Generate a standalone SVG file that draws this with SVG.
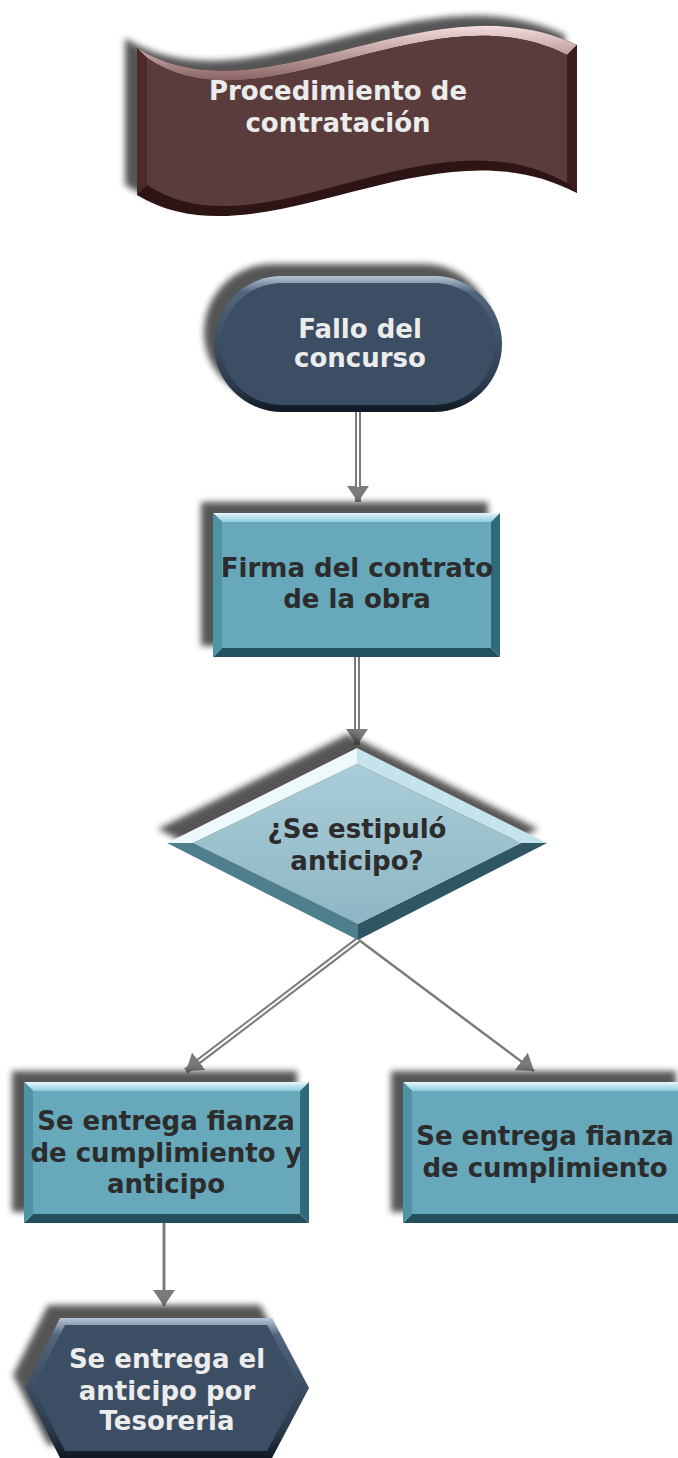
<svg xmlns="http://www.w3.org/2000/svg" width="678" height="1458" viewBox="0 0 678 1458">
<style>
text{font-family:"DejaVu Sans","Liberation Sans",sans-serif;font-weight:bold;font-size:26px;text-anchor:middle}
.lt{fill:#ececec}
.dk{fill:#2c2c2c}
.shd{fill:#262626;opacity:.78;filter:url(#blur)}
.bt{fill:url(#gTop)}
.bb{fill:#22505c}
.bl{fill:#4f93a6}
.br{fill:#2f6a7a}
.face{fill:#67a8bb}
.ln{stroke:#7b7b7b;fill:none}
.dbl{stroke:#7b7b7b;stroke-width:6;fill:none}
.wht{stroke:#ffffff;stroke-width:2;fill:none}
</style>
<defs>
<filter id="blur" x="-20%" y="-20%" width="140%" height="140%"><feGaussianBlur stdDeviation="3"/></filter>
<linearGradient id="gTop" x1="0" y1="0" x2="0" y2="1"><stop offset="0" stop-color="#e4f7fb"/><stop offset="1" stop-color="#8ccbdb"/></linearGradient>
<linearGradient id="gDark" x1="0" y1="0" x2="0" y2="1"><stop offset="0" stop-color="#b7c6d6"/><stop offset="0.12" stop-color="#51657c"/><stop offset="0.8" stop-color="#2c3b4c"/><stop offset="1" stop-color="#0f1823"/></linearGradient>
<linearGradient id="gWaveTop" x1="0" y1="0" x2="0" y2="1"><stop offset="0" stop-color="#f3dddd"/><stop offset="1" stop-color="#8a6363"/></linearGradient>
<linearGradient id="gDia" x1="0" y1="0" x2="0" y2="1"><stop offset="0" stop-color="#a9cdd8"/><stop offset="1" stop-color="#8fb6c4"/></linearGradient>
<marker id="ah" viewBox="0 0 16 22" refX="16" refY="11" markerWidth="16" markerHeight="22" markerUnits="userSpaceOnUse" orient="auto"><path d="M0,0 L16,11 L0,22 Z" fill="#7b7b7b"/></marker>
</defs>

<g id="connectors">
<line class="dbl" x1="358" y1="412" x2="358" y2="502" marker-end="url(#ah)"/>
<line class="wht" x1="358" y1="412" x2="358" y2="487"/>
<line class="dbl" x1="357" y1="657" x2="357" y2="745" marker-end="url(#ah)"/>
<line class="wht" x1="357" y1="657" x2="357" y2="729"/>
<line class="dbl" x1="358" y1="940" x2="186" y2="1071" marker-end="url(#ah)"/>
<line class="wht" x1="358" y1="940" x2="199" y2="1061"/>
<line class="ln" stroke-width="2.5" x1="359" y1="940" x2="534" y2="1071" marker-end="url(#ah)"/>
<line class="ln" stroke-width="3" x1="164" y1="1223" x2="164" y2="1306" marker-end="url(#ah)"/>
</g>

<g id="n-procedimiento">
<path class="shd" transform="translate(-12,-10)" d="M137,48 C260,125 430,-25 577,45 L577,193 C430,115 260,270 137,195 Z"/>
<path fill="#2e1515" d="M137,48 C260,125 430,-25 577,45 L577,193 C430,115 260,270 137,195 Z"/>
<path fill="url(#gWaveTop)" d="M137,48 C260,125 430,-25 577,45 L567,55 C430,-15 260,135 147,58 Z"/>
<path fill="#4a2b2c" d="M137,48 L147,58 L147,185 L137,195 Z"/>
<path fill="#3a1e1f" d="M577,45 L567,55 L567,183 L577,193 Z"/>
<path fill="#5b3c3d" d="M147,58 C260,135 430,-15 567,55 L567,183 C430,105 260,260 147,185 Z"/>
<text class="lt" x="338" y="100">Procedimiento de</text>
<text class="lt" x="338" y="132">contratación</text>
</g>

<g id="n-fallo">
<rect class="shd" x="204" y="264" width="288" height="136" rx="68"/>
<rect x="214" y="276" width="288" height="136" rx="68" fill="url(#gDark)"/>
<rect x="221" y="283" width="274" height="122" rx="61" fill="#3c4e63"/>
<text class="lt" x="360" y="338">Fallo del</text>
<text class="lt" x="360" y="367">concurso</text>
</g>

<g id="n-firma">
<rect class="shd" x="201" y="502" width="287" height="144"/>
<polygon class="bt" points="213,513 500,513 491,522 222,522"/>
<polygon class="bb" points="213,657 500,657 491,648 222,648"/>
<polygon class="bl" points="213,513 222,522 222,648 213,657"/>
<polygon class="br" points="500,513 491,522 491,648 500,657"/>
<rect class="face" x="222" y="522" width="269" height="126"/>
<text class="dk" x="357" y="577">Firma del contrato</text>
<text class="dk" x="357" y="608">de la obra</text>
</g>

<g id="n-anticipo">
<polygon class="shd" transform="translate(-9,-14)" points="357,748 547,843 358,940 167,843"/>
<polygon fill="#eef9fc" points="357,748 167,843 193,843 357,764"/>
<polygon fill="#c6e2ea" points="357,748 547,843 521,843 357,764"/>
<polygon fill="#4f7f8d" points="167,843 358,940 358,924 193,843"/>
<polygon fill="#2f5662" points="547,843 358,940 358,924 521,843"/>
<polygon fill="url(#gDia)" points="357,764 521,843 358,924 193,843"/>
<text class="dk" x="357" y="838">¿Se estipuló</text>
<text class="dk" x="357" y="870">anticipo?</text>
</g>

<g id="n-fianza-anticipo">
<rect class="shd" x="12" y="1071" width="285" height="141"/>
<polygon class="bt" points="24,1082 309,1082 300,1091 33,1091"/>
<polygon class="bb" points="24,1223 309,1223 300,1214 33,1214"/>
<polygon class="bl" points="24,1082 33,1091 33,1214 24,1223"/>
<polygon class="br" points="309,1082 300,1091 300,1214 309,1223"/>
<rect class="face" x="33" y="1091" width="267" height="123"/>
<text class="dk" x="166" y="1130">Se entrega fianza</text>
<text class="dk" x="166" y="1162">de cumplimiento y</text>
<text class="dk" x="166" y="1193">anticipo</text>
</g>

<g id="n-fianza">
<rect class="shd" x="391" y="1071" width="285" height="141"/>
<polygon class="bt" points="403,1082 688,1082 679,1091 412,1091"/>
<polygon class="bb" points="403,1223 688,1223 679,1214 412,1214"/>
<polygon class="bl" points="403,1082 412,1091 412,1214 403,1223"/>
<polygon class="br" points="688,1082 679,1091 679,1214 688,1223"/>
<rect class="face" x="412" y="1091" width="267" height="123"/>
<text class="dk" x="545" y="1145">Se entrega fianza</text>
<text class="dk" x="545" y="1177">de cumplimiento</text>
</g>

<g id="n-tesoreria">
<polygon class="shd" transform="translate(-12,-13)" points="25,1388 60,1318 272,1318 309,1388 272,1458 60,1458"/>
<polygon fill="url(#gDark)" points="25,1388 60,1318 272,1318 309,1388 272,1458 60,1458"/>
<polygon fill="#3c4e63" points="33,1388 65,1325 267,1325 301,1388 267,1451 65,1451"/>
<text class="lt" x="167" y="1368">Se entrega el</text>
<text class="lt" x="167" y="1400">anticipo por</text>
<text class="lt" x="167" y="1430">Tesoreria</text>
</g>
</svg>
